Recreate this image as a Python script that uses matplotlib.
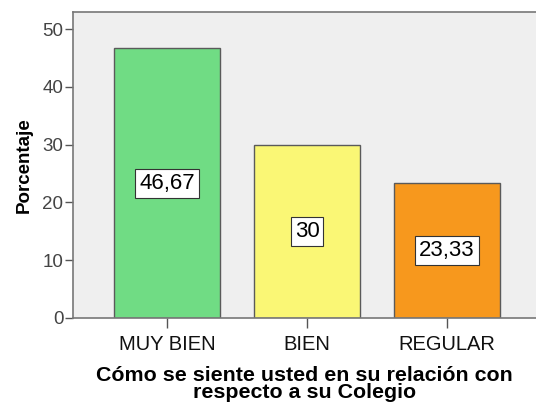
import matplotlib
matplotlib.use("Agg")
import matplotlib.pyplot as plt

categories = ["MUY BIEN", "BIEN", "REGULAR"]
values = [46.67, 30, 23.33]
labels = ["46,67", "30", "23,33"]
colors = ["#70DC84", "#FAF775", "#F7981D"]
yticks = [0, 10, 20, 30, 40, 50]

plt.rcParams['font.family'] = ['Liberation Sans', 'DejaVu Sans']

fig = plt.figure(figsize=(5.36, 4.04), dpi=100)
ax = fig.add_axes([73/536, 86/404, 1 - 73/536, (318-12)/404])
ax.set_facecolor("#EFEFEF")

x = list(range(len(categories)))
ax.bar(x, values, width=0.757, color=colors, edgecolor="#5a5a5a", linewidth=1.0, zorder=2)
for xi, v, lab in zip(x, values, labels):
    ax.text(xi, v/2, lab, ha="center", va="center", fontsize=16, color="black", zorder=3,
            bbox=dict(boxstyle="square,pad=0.18", facecolor="white", edgecolor="#333333", linewidth=0.8))

ax.set_xlim(-94/140, (536-167)/140)
ax.set_ylim(0, 306/289*50)
ax.set_yticks(yticks)
ax.set_xticks(x)
ax.set_xticklabels(categories, fontsize=14.5, color="#111111")
ax.tick_params(axis="y", labelsize=13.5, colors="#555555", length=6, width=1, labelcolor="#444444", pad=1)
ax.tick_params(axis="x", length=7, width=1, colors="#555555", labelcolor="#111111", pad=5)

for s in ["left", "bottom", "top"]:
    ax.spines[s].set_color("#777777")
    ax.spines[s].set_linewidth(1.2)
ax.spines["right"].set_visible(False)

ax.set_ylabel("Porcentaje", fontsize=13.5, fontweight="bold", labelpad=7)
ax.set_xlabel("Cómo se siente usted en su relación con\nrespecto a su Colegio", fontsize=15.4,
              fontweight="bold", linespacing=0.85, labelpad=9)

fig.savefig("out.png", dpi=100)
